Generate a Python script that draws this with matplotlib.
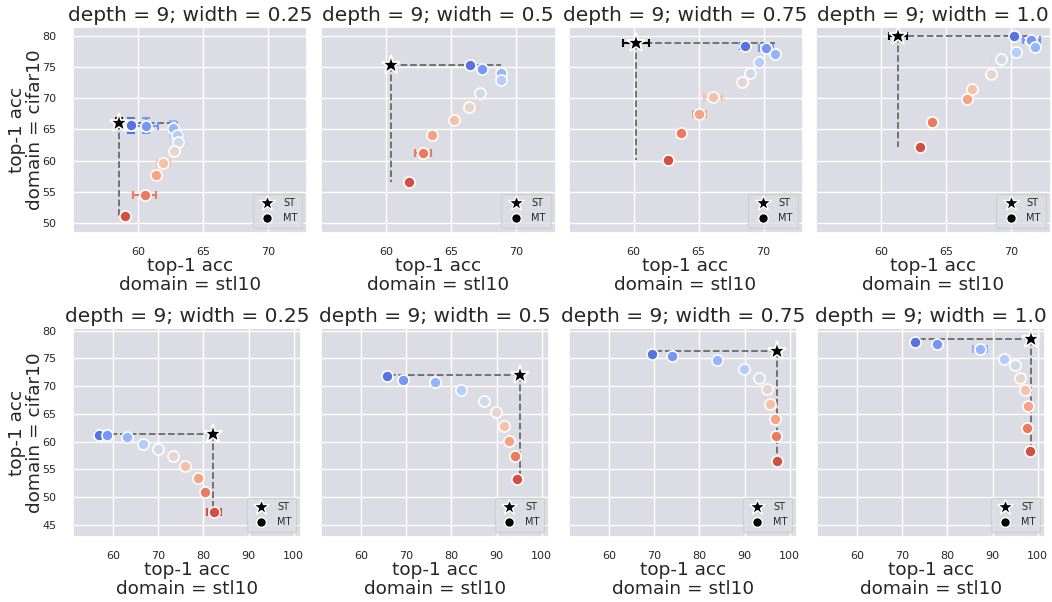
import matplotlib
matplotlib.use("Agg")
import matplotlib.pyplot as plt
from matplotlib.lines import Line2D
import seaborn as sns

sns.set_theme(style="darkgrid", rc={"axes.facecolor": "#DCDCE4"})
plt.rcParams['font.family'] = ['DejaVu Sans']

widths = [0.25, 0.5, 0.75, 1.0]

# ---- row 1: cifar10 vs stl10 (first ordering) ----
top_st_x = [58.5, 60.4, 60.2, 61.3]
top_st_y = [66.1, 75.35, 78.8, 79.9]
top_st_xerr = [0.2, 0.0, 1.0, 0.7]
top_st_yerr = [0.8, 0.0, 0.0, 0.0]

top_mt_x = [
    [59.46, 60.62, 62.69, 62.97, 63.10, 62.77, 61.95, 61.38, 60.50, 59.02],
    [66.46, 67.33, 68.78, 68.78, 67.17, 66.33, 65.18, 63.50, 62.82, 61.75],
    [68.57, 70.18, 70.89, 69.64, 68.95, 68.34, 66.09, 65.05, 63.62, 62.68],
    [70.20, 71.54, 71.84, 70.36, 69.17, 68.43, 66.97, 66.59, 63.94, 63.00],
]
top_mt_y = [
    [65.67, 65.56, 65.19, 64.10, 63.05, 61.55, 59.60, 57.75, 54.55, 51.17],
    [75.24, 74.70, 74.00, 72.90, 70.90, 68.66, 66.57, 64.12, 61.28, 56.58],
    [78.40, 78.07, 77.10, 75.83, 74.00, 72.57, 70.16, 67.49, 64.44, 60.05],
    [80.00, 79.25, 78.24, 77.43, 76.25, 73.95, 71.44, 69.89, 66.20, 62.19],
]
top_mt_xerr = [
    [0.2, 0.95, 0.3, 0.5, 0.6, 0.3, 0.5, 0.2, 0.9, 0.25],
    [0.1, 0.1, 0.1, 0.1, 0.1, 0.8, 0.1, 0.1, 0.6, 0.1],
    [0.4, 0.56, 0.1, 0.1, 0.1, 0.1, 0.7, 0.5, 0.1, 0.2],
    [0.1, 0.67, 0.2, 0.1, 0.73, 0.1, 0.1, 0.1, 0.1, 0.1],
]
top_mt_yerr = [
    [1.2, 1.2, 1.1, 0.4, 0.3, 0.2, 0.3, 0.2, 0.3, 0.3],
    [0.1, 0.1, 0.1, 0.1, 0.1, 0.1, 0.1, 0.1, 0.1, 0.1],
    [0.3, 0.3, 0.1, 0.1, 0.1, 0.1, 0.1, 0.1, 0.1, 0.2],
    [0.1, 0.2, 0.4, 0.1, 0.1, 0.1, 0.1, 0.1, 0.1, 0.1],
]

# ---- row 2: cifar10 vs stl10 (second ordering) ----
bot_st_x = [82.2, 95.2, 97.25, 98.56]
bot_st_y = [61.36, 72.06, 76.27, 78.44]
bot_st_xerr = [0.3, 0.2, 0.2, 0.2]
bot_st_yerr = [0.5, 0.2, 0.2, 0.2]

bot_mt_x = [
    [56.8, 58.74, 62.96, 66.59, 69.93, 73.26, 76.0, 78.74, 80.44, 82.3],
    [65.65, 69.35, 76.37, 82.0, 87.1, 89.9, 91.74, 92.74, 94.13, 94.42],
    [69.57, 73.99, 83.9, 89.78, 93.12, 94.93, 95.58, 96.74, 96.96, 97.25],
    [72.78, 77.8, 87.23, 92.46, 95.0, 96.09, 97.18, 97.84, 97.55, 98.27],
]
bot_mt_y = [
    [61.24, 61.24, 60.76, 59.6, 58.65, 57.33, 55.52, 53.42, 50.95, 47.22],
    [71.76, 71.1, 70.74, 69.3, 67.25, 65.33, 62.86, 60.16, 57.45, 53.24],
    [75.8, 75.37, 74.7, 73.03, 71.46, 69.54, 66.77, 64.12, 60.94, 56.55],
    [78.02, 77.53, 76.75, 74.95, 73.75, 71.46, 69.23, 66.35, 62.5, 58.4],
]
bot_mt_xerr = [
    [0.8, 0.7, 0.3, 0.2, 0.2, 0.2, 0.2, 0.2, 0.2, 1.5],
    [0.2, 0.2, 0.2, 0.2, 0.2, 0.2, 0.2, 0.2, 0.2, 0.2],
    [0.5, 0.2, 0.8, 0.2, 0.2, 0.2, 0.2, 0.2, 0.2, 0.2],
    [0.2, 0.2, 1.6, 0.2, 0.2, 0.2, 0.2, 0.2, 0.2, 0.2],
]
bot_mt_yerr = [
    [0.5, 0.4, 0.6, 0.7, 0.4, 0.2, 0.2, 0.2, 0.2, 0.2],
    [0.1, 0.1, 0.1, 0.1, 0.1, 0.1, 0.1, 0.1, 0.1, 0.1],
    [0.3, 0.1, 0.4, 0.1, 0.1, 0.1, 0.1, 0.1, 0.1, 0.1],
    [0.1, 0.1, 0.2, 0.1, 0.1, 0.1, 0.1, 0.1, 0.1, 0.1],
]

W, H = 1052, 602
# axes boxes in pixels: (left, top, right, bottom)
top_boxes = [(73, 27, 307, 233), (321, 27, 555.5, 233),
             (568.5, 27, 802.5, 233), (816, 27, 1050.5, 233)]
bot_boxes = [(73, 328, 301, 537), (321, 328, 549, 537),
             (568.5, 328, 797, 537), (816.5, 328, 1045, 537)]

colors = sns.color_palette("coolwarm", 10)


def add_ax(fig, box):
    l, t, r, b = box
    return fig.add_axes([l / W, 1 - b / H, (r - l) / W, (b - t) / H])


def draw_panel(ax, st_x, st_y, st_xerr, st_yerr, xs, ys, xerrs, yerrs):
    # dashed guides from the single-task point to the multi-task extremes
    far_x = max(xs, key=lambda v: abs(v - st_x))
    low_y = min(ys)
    ax.plot([st_x, far_x], [st_y, st_y], ls='--', color='dimgray', lw=1.3, zorder=2)
    ax.plot([st_x, st_x], [st_y, low_y], ls='--', color='dimgray', lw=1.3, zorder=2)

    for x, y, xe, ye, c in zip(xs, ys, xerrs, yerrs, colors):
        ax.errorbar(x, y, xerr=xe, yerr=ye, fmt='none', ecolor=c,
                    elinewidth=1.5, capsize=3, capthick=1.5, zorder=3)
        ax.plot(x, y, 'o', color=c, ms=8, mec='white', mew=1.2, zorder=4)

    ax.errorbar(st_x, st_y, xerr=st_xerr, yerr=st_yerr, fmt='none', ecolor='black',
                elinewidth=1.5, capsize=3, capthick=1.5, zorder=5)
    ax.plot(st_x, st_y, '*', color='black', ms=14, mec='white', mew=1.3, zorder=6)

    handles = [
        Line2D([], [], ls='none', marker='*', color='black', ms=12, mec='white', mew=1.0),
        Line2D([], [], ls='none', marker='o', color='black', ms=7, mec='white', mew=1.0),
    ]
    ax.legend(handles, ['ST', 'MT'], loc='lower right', fontsize=7,
              handletextpad=0.6, borderpad=0.5, labelspacing=0.5)


fig = plt.figure(figsize=(W / 100, H / 100), dpi=100)

rows = [
    (top_boxes, top_st_x, top_st_y, top_st_xerr, top_st_yerr,
     top_mt_x, top_mt_y, top_mt_xerr, top_mt_yerr,
     (55.0, 73.0), (48.4, 81.4), [60, 65, 70], [50, 55, 60, 65, 70, 75, 80]),
    (bot_boxes, bot_st_x, bot_st_y, bot_st_xerr, bot_st_yerr,
     bot_mt_x, bot_mt_y, bot_mt_xerr, bot_mt_yerr,
     (51.1, 101.6), (42.8, 80.5), [60, 70, 80, 90, 100], [45, 50, 55, 60, 65, 70, 75, 80]),
]

for (boxes, sx, sy, sxe, sye, mx, my, mxe, mye, xlim, ylim, xt, yt) in rows:
    for i, box in enumerate(boxes):
        ax = add_ax(fig, box)
        draw_panel(ax, sx[i], sy[i], sxe[i], sye[i], mx[i], my[i], mxe[i], mye[i])
        ax.set_xlim(*xlim)
        ax.set_ylim(*ylim)
        ax.set_xticks(xt)
        ax.set_yticks(yt)
        ax.tick_params(axis='x', labelsize=8, pad=4)
        ax.tick_params(axis='y', labelsize=8, pad=6)
        ax.set_title(f"depth = 9; width = {widths[i]}", fontsize=14.5, pad=4)
        ax.set_xlabel("top-1 acc\ndomain = stl10", fontsize=13.3, labelpad=0,
                      linespacing=1.05)
        if i == 0:
            ax.set_ylabel("top-1 acc\ndomain = cifar10", fontsize=13.3, labelpad=-1.5,
                          linespacing=1.05)
        else:
            ax.set_yticklabels([])

fig.savefig("out.png", dpi=100)
